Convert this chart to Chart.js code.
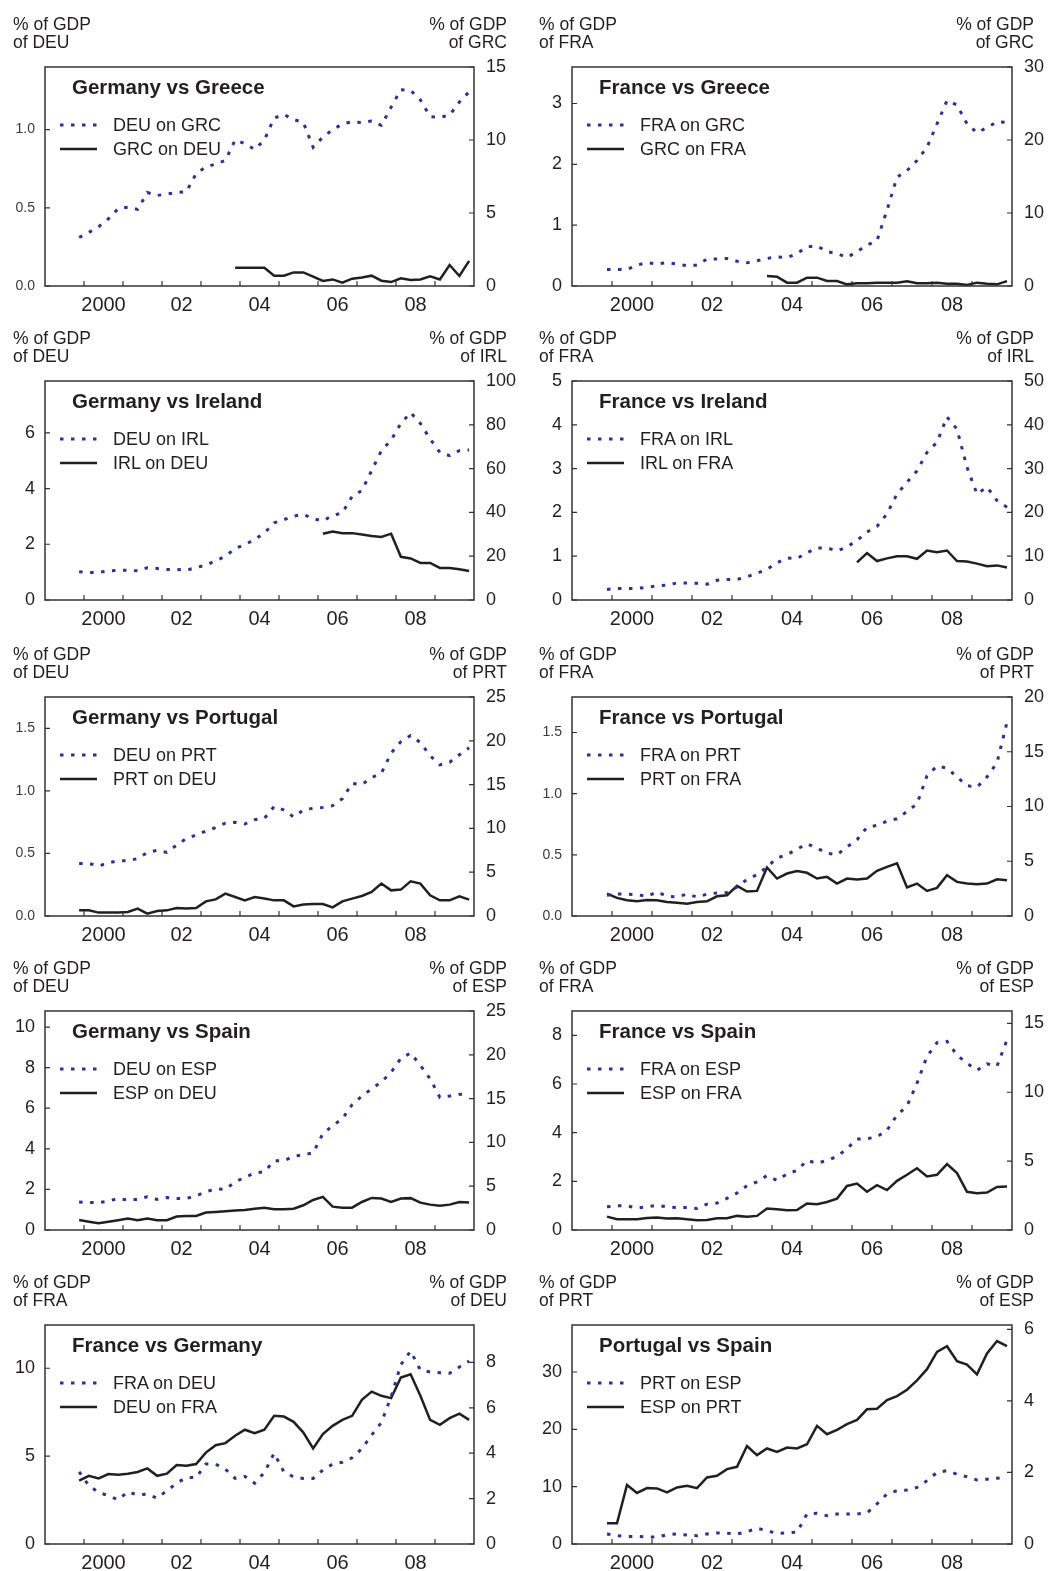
<!DOCTYPE html>
<html>
<head>
<meta charset="utf-8">
<script src="https://cdn.jsdelivr.net/npm/chart.js@4.4.0/dist/chart.umd.min.js"></script>
<style>
  html, body { margin: 0; padding: 0; background: #fff; overflow: hidden; }
  #page { position: relative; width: 1048px; height: 1571px; }
  .panel { position: absolute; width: 524px; height: 314px; }
  .panel canvas { position: absolute; left: 0; top: 0; }
  .txt { position: absolute; white-space: nowrap; color: #231f20;
         font-family: "Liberation Sans", Arial, sans-serif; }
  .unit { top: 15px; font-size: 17.5px; line-height: 18px; }
  .title { font-weight: bold; font-size: 20.5px; line-height: 22px; }
  .leg { font-size: 18px; line-height: 20px; }
</style>
</head>
<body>
<div id="page"></div>
<script>
// quarters (1999Q4 - 2009Q4)
const quarters = [
  "1999Q4",
  "2000Q1", "2000Q2", "2000Q3", "2000Q4", "2001Q1", "2001Q2", "2001Q3", "2001Q4",
  "2002Q1", "2002Q2", "2002Q3", "2002Q4", "2003Q1", "2003Q2", "2003Q3", "2003Q4",
  "2004Q1", "2004Q2", "2004Q3", "2004Q4", "2005Q1", "2005Q2", "2005Q3", "2005Q4",
  "2006Q1", "2006Q2", "2006Q3", "2006Q4", "2007Q1", "2007Q2", "2007Q3", "2007Q4",
  "2008Q1", "2008Q2", "2008Q3", "2008Q4", "2009Q1", "2009Q2", "2009Q3", "2009Q4"
];
const yearTicks = [2000, 2001, 2002, 2003, 2004, 2005, 2006, 2007, 2008, 2009];
const yearLabels = [2000.5, 2002.5, 2004.5, 2006.5, 2008.5];

// Germany vs Greece
const deuOnGrc = [3.33, 3.67, 4.06, 4.6, 5.3, 5.4, 5.25, 6.4, 6.2, 6.3, 6.4, 6.45, 7.7, 8.15, 8.35, 8.6, 10.0, 9.75, 9.35, 10.0, 11.5, 11.75, 11.4, 11.2, 9.5, 10.2, 10.7, 11.1, 11.25, 11.2, 11.3, 11.0, 12.25, 13.45, 13.4, 12.75, 11.6, 11.55, 11.7, 12.6, 13.3];
const grcOnDeu = [null, null, null, null, null, null, null, null, null, null, null, null, null, null, null, null,
  0.117, 0.117, 0.117, 0.117, 0.066, 0.066, 0.087, 0.087, 0.06, 0.032, 0.042, 0.021, 0.047, 0.055, 0.066, 0.034, 0.025, 0.049, 0.038, 0.042, 0.062, 0.042, 0.134, 0.064, 0.161];

// France vs Greece
const fraOnGrc = [2.27, 2.27, 2.27, 2.86, 3.2, 3.0, 3.2, 3.0, 2.8, 2.86, 3.7, 3.7, 3.77, 3.4, 3.2, 3.45, 3.77, 4.0, 3.9, 4.45, 5.36, 5.5, 4.7, 4.45, 3.9, 4.7, 5.6, 6.2, 10.4, 14.9, 15.8, 17.2, 19.0, 22.2, 25.4, 24.8, 22.2, 21.0, 21.7, 22.5, 22.4];
const grcOnFra = [null, null, null, null, null, null, null, null, null, null, null, null, null, null, null, null,
  0.164, 0.153, 0.055, 0.055, 0.137, 0.137, 0.082, 0.082, 0.027, 0.044, 0.044, 0.055, 0.055, 0.055, 0.077, 0.044, 0.044, 0.055, 0.038, 0.038, 0.016, 0.055, 0.038, 0.027, 0.08];

// Germany vs Ireland
const deuOnIrl = [12.9, 12.6, 12.6, 13.3, 13.6, 13.6, 13.3, 14.7, 14.4, 13.9, 13.9, 13.6, 14.8, 15.9, 17.9, 20.0, 23.5, 25.3, 27.6, 30.6, 35.2, 36.7, 38.3, 39.1, 37.1, 36.1, 38.6, 39.8, 47.3, 50.0, 59.1, 68.2, 73.0, 80.6, 85.6, 80.6, 73.5, 67.4, 65.9, 68.2, 68.5];
const irlOnDeu = [null, null, null, null, null, null, null, null, null, null, null, null, null, null, null, null, null, null, null, null, null, null, null, null, null,
  2.38, 2.46, 2.4, 2.4, 2.35, 2.3, 2.26, 2.38, 1.55, 1.49, 1.33, 1.33, 1.15, 1.15, 1.1, 1.04];

// France vs Ireland
const fraOnIrl = [2.4, 2.65, 2.65, 2.65, 2.9, 3.2, 3.4, 3.9, 3.9, 3.8, 3.6, 4.5, 4.7, 4.7, 5.3, 6.1, 7.0, 8.5, 9.6, 9.5, 10.8, 11.9, 11.9, 11.2, 12.1, 13.6, 15.5, 16.8, 19.7, 24.2, 26.9, 29.5, 33.7, 36.0, 41.8, 39.0, 30.3, 24.2, 25.8, 22.7, 21.2];
const irlOnFra = [null, null, null, null, null, null, null, null, null, null, null, null, null, null, null, null, null, null, null, null, null, null, null, null, null,
  0.86, 1.07, 0.89, 0.95, 1.0, 1.0, 0.94, 1.13, 1.09, 1.13, 0.89, 0.88, 0.83, 0.77, 0.79, 0.74];

// Germany vs Portugal
const deuOnPrt = [6.0, 6.0, 5.7, 6.07, 6.3, 6.3, 6.56, 7.25, 7.5, 7.25, 8.1, 8.85, 9.24, 9.7, 10.1, 10.6, 10.7, 10.5, 11.0, 11.15, 12.5, 12.1, 11.3, 12.1, 12.3, 12.4, 12.6, 13.4, 15.15, 15.0, 15.8, 16.3, 18.6, 19.9, 20.6, 19.8, 18.3, 17.25, 17.55, 18.4, 19.2];
const prtOnDeu = [0.045, 0.045, 0.027, 0.027, 0.027, 0.032, 0.059, 0.019, 0.04, 0.045, 0.064, 0.059, 0.064, 0.117, 0.133, 0.179, 0.152, 0.125, 0.152, 0.139, 0.125, 0.125, 0.077, 0.091, 0.096, 0.096, 0.069, 0.117, 0.139, 0.16, 0.192, 0.259, 0.205, 0.211, 0.277, 0.259, 0.165, 0.125, 0.125, 0.157, 0.131];

// France vs Portugal
const fraOnPrt = [1.9, 2.0, 2.0, 1.95, 1.8, 2.2, 1.8, 1.73, 2.0, 1.73, 2.0, 2.1, 2.13, 2.64, 3.34, 3.77, 4.47, 5.3, 5.6, 6.1, 6.6, 6.2, 5.74, 5.6, 6.3, 6.96, 8.1, 8.27, 8.66, 8.88, 9.54, 10.24, 12.8, 13.7, 13.5, 12.7, 11.9, 11.76, 12.7, 14.0, 17.7];
const prtOnFra = [0.183, 0.148, 0.129, 0.12, 0.131, 0.129, 0.115, 0.109, 0.101, 0.115, 0.12, 0.161, 0.17, 0.246, 0.2, 0.205, 0.397, 0.306, 0.347, 0.367, 0.353, 0.306, 0.32, 0.265, 0.306, 0.298, 0.306, 0.369, 0.402, 0.43, 0.233, 0.265, 0.205, 0.23, 0.334, 0.279, 0.265, 0.26, 0.265, 0.3, 0.293];

// Germany vs Spain
const deuOnEsp = [3.2, 3.13, 3.13, 3.3, 3.6, 3.43, 3.5, 3.8, 3.5, 3.7, 3.6, 3.6, 3.9, 4.35, 4.7, 4.65, 5.5, 6.0, 6.5, 6.65, 7.9, 7.9, 8.4, 8.6, 8.8, 11.0, 11.9, 12.7, 14.3, 15.3, 16.1, 16.9, 18.0, 19.6, 20.2, 18.8, 17.25, 15.15, 15.3, 15.5, 15.35];
const espOnDeu = [0.49, 0.41, 0.33, 0.41, 0.48, 0.56, 0.48, 0.56, 0.48, 0.48, 0.66, 0.69, 0.69, 0.86, 0.89, 0.92, 0.96, 0.99, 1.05, 1.1, 1.02, 1.02, 1.05, 1.22, 1.48, 1.63, 1.15, 1.1, 1.1, 1.38, 1.58, 1.55, 1.38, 1.55, 1.57, 1.35, 1.25, 1.19, 1.25, 1.38, 1.35];

// France vs Spain
const fraOnEsp = [1.68, 1.76, 1.76, 1.59, 1.68, 1.8, 1.68, 1.63, 1.63, 1.56, 1.88, 1.95, 2.3, 2.68, 3.22, 3.5, 3.95, 3.6, 4.07, 4.32, 5.05, 4.85, 5.05, 5.34, 5.9, 6.6, 6.63, 6.76, 7.24, 8.34, 9.0, 10.66, 12.6, 13.6, 13.7, 12.7, 12.1, 11.6, 12.07, 11.9, 13.8];
const espOnFra = [0.55, 0.44, 0.44, 0.44, 0.49, 0.51, 0.47, 0.48, 0.44, 0.4, 0.41, 0.48, 0.48, 0.58, 0.54, 0.58, 0.88, 0.85, 0.81, 0.82, 1.09, 1.06, 1.15, 1.29, 1.81, 1.91, 1.57, 1.84, 1.64, 2.02, 2.27, 2.54, 2.2, 2.27, 2.71, 2.34, 1.57, 1.51, 1.54, 1.77, 1.79];

// France vs Germany
const fraOnDeu = [3.18, 2.57, 2.27, 2.13, 1.95, 2.3, 2.16, 2.2, 2.02, 2.35, 2.68, 2.93, 2.93, 3.52, 3.52, 3.3, 2.89, 2.98, 2.68, 3.15, 4.0, 3.18, 2.96, 2.89, 2.89, 3.26, 3.52, 3.6, 3.8, 4.2, 4.8, 5.35, 6.5, 7.9, 8.5, 7.67, 7.58, 7.55, 7.52, 7.8, 8.06];
const deuOnFra = [3.6, 3.88, 3.73, 3.98, 3.94, 4.0, 4.1, 4.3, 3.88, 4.0, 4.49, 4.45, 4.55, 5.2, 5.62, 5.74, 6.16, 6.5, 6.3, 6.5, 7.29, 7.25, 6.95, 6.34, 5.44, 6.25, 6.72, 7.06, 7.29, 8.2, 8.67, 8.43, 8.3, 9.47, 9.66, 8.43, 7.06, 6.78, 7.16, 7.42, 7.06];

// Portugal vs Spain
const prtOnEsp = [0.28, 0.23, 0.21, 0.21, 0.2, 0.19, 0.26, 0.28, 0.25, 0.23, 0.28, 0.31, 0.3, 0.28, 0.34, 0.44, 0.37, 0.3, 0.31, 0.33, 0.84, 0.86, 0.79, 0.84, 0.84, 0.84, 0.87, 1.12, 1.4, 1.49, 1.51, 1.58, 1.77, 2.0, 2.05, 1.95, 1.88, 1.79, 1.81, 1.84, 1.86];
const espOnPrt = [3.6, 3.6, 10.3, 8.9, 9.75, 9.7, 9.0, 9.87, 10.16, 9.75, 11.6, 11.9, 13.06, 13.46, 17.1, 15.5, 16.66, 16.08, 16.83, 16.66, 17.4, 20.6, 19.15, 19.9, 20.9, 21.65, 23.5, 23.6, 25.1, 25.8, 26.9, 28.55, 30.5, 33.5, 34.5, 31.9, 31.3, 29.6, 33.25, 35.4, 34.5];

const panels = [
  { row: 0, col: 0, title: "Germany vs Greece", leftOf: "of DEU", rightOf: "of GRC", dotName: "DEU on GRC", solidName: "GRC on DEU", dotted: deuOnGrc, solid: grcOnDeu, lMax: 1.4, lStep: 0.5, lDec: 1, rMax: 15, rStep: 5 },
  { row: 0, col: 1, title: "France vs Greece", leftOf: "of FRA", rightOf: "of GRC", dotName: "FRA on GRC", solidName: "GRC on FRA", dotted: fraOnGrc, solid: grcOnFra, lMax: 3.6, lStep: 1, lDec: 0, rMax: 30, rStep: 10 },
  { row: 1, col: 0, title: "Germany vs Ireland", leftOf: "of DEU", rightOf: "of IRL", dotName: "DEU on IRL", solidName: "IRL on DEU", dotted: deuOnIrl, solid: irlOnDeu, lMax: 7.86, lStep: 2, lDec: 0, rMax: 100, rStep: 20 },
  { row: 1, col: 1, title: "France vs Ireland", leftOf: "of FRA", rightOf: "of IRL", dotName: "FRA on IRL", solidName: "IRL on FRA", dotted: fraOnIrl, solid: irlOnFra, lMax: 5, lStep: 1, lDec: 0, rMax: 50, rStep: 10 },
  { row: 2, col: 0, title: "Germany vs Portugal", leftOf: "of DEU", rightOf: "of PRT", dotName: "DEU on PRT", solidName: "PRT on DEU", dotted: deuOnPrt, solid: prtOnDeu, lMax: 1.75, lStep: 0.5, lDec: 1, rMax: 25, rStep: 5 },
  { row: 2, col: 1, title: "France vs Portugal", leftOf: "of FRA", rightOf: "of PRT", dotName: "FRA on PRT", solidName: "PRT on FRA", dotted: fraOnPrt, solid: prtOnFra, lMax: 1.79, lStep: 0.5, lDec: 1, rMax: 20, rStep: 5 },
  { row: 3, col: 0, title: "Germany vs Spain", leftOf: "of DEU", rightOf: "of ESP", dotName: "DEU on ESP", solidName: "ESP on DEU", dotted: deuOnEsp, solid: espOnDeu, lMax: 10.79, lStep: 2, lDec: 0, rMax: 25, rStep: 5 },
  { row: 3, col: 1, title: "France vs Spain", leftOf: "of FRA", rightOf: "of ESP", dotName: "FRA on ESP", solidName: "ESP on FRA", dotted: fraOnEsp, solid: espOnFra, lMax: 9.0, lStep: 2, lDec: 0, rMax: 15.9, rStep: 5 },
  { row: 4, col: 0, title: "France vs Germany", leftOf: "of FRA", rightOf: "of DEU", dotName: "FRA on DEU", solidName: "DEU on FRA", dotted: fraOnDeu, solid: deuOnFra, lMax: 12.46, lStep: 5, lDec: 0, rMax: 9.65, rStep: 2 },
  { row: 4, col: 1, title: "Portugal vs Spain", leftOf: "of PRT", rightOf: "of ESP", dotName: "PRT on ESP", solidName: "ESP on PRT", dotted: prtOnEsp, solid: espOnPrt, lMax: 38.2, lStep: 10, lDec: 0, rMax: 6.12, rStep: 2 }
];

const rowTops = [0, 314, 630, 944, 1258];
const FONT = '"Liberation Sans", Arial, sans-serif';
const INK = "#231f20";
const BLUE = "#2e3192";
const DOTS = [3.5, 7.5];

Chart.defaults.font.family = FONT;
Chart.defaults.color = INK;

const quarterPos = (q) => Number(q.slice(0, 4)) + (Number(q.slice(5)) - 0.5) / 4;
const toPoints = (values) => quarters.map((q, i) => ({ x: quarterPos(q), y: values[i] }));
const stepTicks = (max, step) => {
  const out = [];
  for (let v = 0; v <= max + 1e-9; v += step) out.push({ value: Math.round(v * 1000) / 1000 });
  return out;
};

// box, inward ticks and legend swatches
const framePlugin = {
  id: "frame",
  afterDatasetsDraw(chart) {
    const { ctx, chartArea: a, scales } = chart;
    ctx.save();
    ctx.strokeStyle = "#333";
    ctx.lineWidth = 1.5;
    ctx.strokeRect(a.left, a.top, a.right - a.left, a.bottom - a.top);
    ctx.lineWidth = 1.2;
    ctx.beginPath();
    yearTicks.forEach((yr) => {
      const px = scales.x.getPixelForValue(yr);
      ctx.moveTo(px, a.bottom);
      ctx.lineTo(px, a.bottom - 5);
    });
    scales.yL.ticks.forEach((t) => {
      const py = scales.yL.getPixelForValue(t.value);
      ctx.moveTo(a.left, py);
      ctx.lineTo(a.left + 5, py);
    });
    scales.yR.ticks.forEach((t) => {
      const py = scales.yR.getPixelForValue(t.value);
      ctx.moveTo(a.right, py);
      ctx.lineTo(a.right - 5, py);
    });
    ctx.stroke();

    // legend samples
    ctx.lineWidth = 3;
    ctx.strokeStyle = BLUE;
    ctx.setLineDash(DOTS);
    ctx.beginPath();
    ctx.moveTo(a.left + 15, a.top + 58);
    ctx.lineTo(a.left + 52, a.top + 58);
    ctx.stroke();
    ctx.setLineDash([]);
    ctx.strokeStyle = INK;
    ctx.lineWidth = 2.5;
    ctx.beginPath();
    ctx.moveTo(a.left + 15, a.top + 82);
    ctx.lineTo(a.left + 52, a.top + 82);
    ctx.stroke();
    ctx.restore();
  }
};

const page = document.getElementById("page");

panels.forEach((p) => {
  const leftW = p.col === 0 ? 45 : 48;
  const rightW = p.col === 0 ? 50 : 36;
  const top = 67;

  const box = document.createElement("div");
  box.className = "panel";
  box.style.left = p.col * 524 + "px";
  box.style.top = rowTops[p.row] + "px";
  page.appendChild(box);

  const canvas = document.createElement("canvas");
  canvas.width = 524;
  canvas.height = 314;
  box.appendChild(canvas);

  const addText = (cls, text, css) => {
    const d = document.createElement("div");
    d.className = "txt " + cls;
    d.innerHTML = text;
    Object.assign(d.style, css);
    box.appendChild(d);
  };
  addText("unit", "% of GDP<br>" + p.leftOf, { left: (p.col === 0 ? 13 : 15) + "px" });
  addText("unit", "% of GDP<br>" + p.rightOf, { right: (p.col === 0 ? 17 : 14) + "px", textAlign: "right" });
  addText("title", p.title, { left: leftW + 27 + "px", top: top + 9 + "px" });
  addText("leg", p.dotName, { left: leftW + 68 + "px", top: top + 48 + "px" });
  addText("leg", p.solidName, { left: leftW + 68 + "px", top: top + 72 + "px" });

  const smallLeft = p.lDec > 0;

  new Chart(canvas, {
    type: "line",
    data: {
      datasets: [
        {
          label: p.dotName,
          data: toPoints(p.dotted),
          yAxisID: "yR",
          borderColor: BLUE,
          borderWidth: 3,
          borderDash: DOTS,
          pointRadius: 0,
          tension: 0
        },
        {
          label: p.solidName,
          data: toPoints(p.solid),
          yAxisID: "yL",
          borderColor: INK,
          borderWidth: 2.5,
          pointRadius: 0,
          tension: 0
        }
      ]
    },
    options: {
      responsive: false,
      animation: false,
      layout: { padding: { top: top, left: 0, right: 0, bottom: 0 } },
      plugins: { legend: { display: false }, tooltip: { enabled: false } },
      scales: {
        x: {
          type: "linear",
          min: 1999,
          max: 2010,
          grid: { display: false, drawTicks: false },
          border: { display: false },
          afterBuildTicks: (s) => { s.ticks = yearLabels.map((v) => ({ value: v })); },
          afterFit: (s) => { s.height = 28; },
          ticks: {
            padding: 7,
            maxRotation: 0,
            autoSkip: false,
            color: INK,
            font: { size: 20 },
            callback: (v) => (v === 2000.5 ? "2000" : String(Math.floor(v) % 100).padStart(2, "0"))
          }
        },
        yL: {
          type: "linear",
          position: "left",
          min: 0,
          max: p.lMax,
          grid: { display: false, drawTicks: false },
          border: { display: false },
          afterBuildTicks: (s) => { s.ticks = stepTicks(p.lMax, p.lStep); },
          afterFit: (s) => { s.width = leftW; },
          ticks: {
            padding: 10,
            color: smallLeft ? "#3a3a3a" : INK,
            font: { size: smallLeft ? 14 : 18 },
            callback: (v) => v.toFixed(p.lDec)
          }
        },
        yR: {
          type: "linear",
          position: "right",
          min: 0,
          max: p.rMax,
          grid: { display: false, drawTicks: false },
          border: { display: false },
          afterBuildTicks: (s) => { s.ticks = stepTicks(p.rMax, p.rStep); },
          afterFit: (s) => { s.width = rightW; },
          ticks: {
            padding: 12,
            color: INK,
            font: { size: 18 },
            callback: (v) => String(v)
          }
        }
      }
    },
    plugins: [framePlugin]
  });
});
</script>
</body>
</html>
